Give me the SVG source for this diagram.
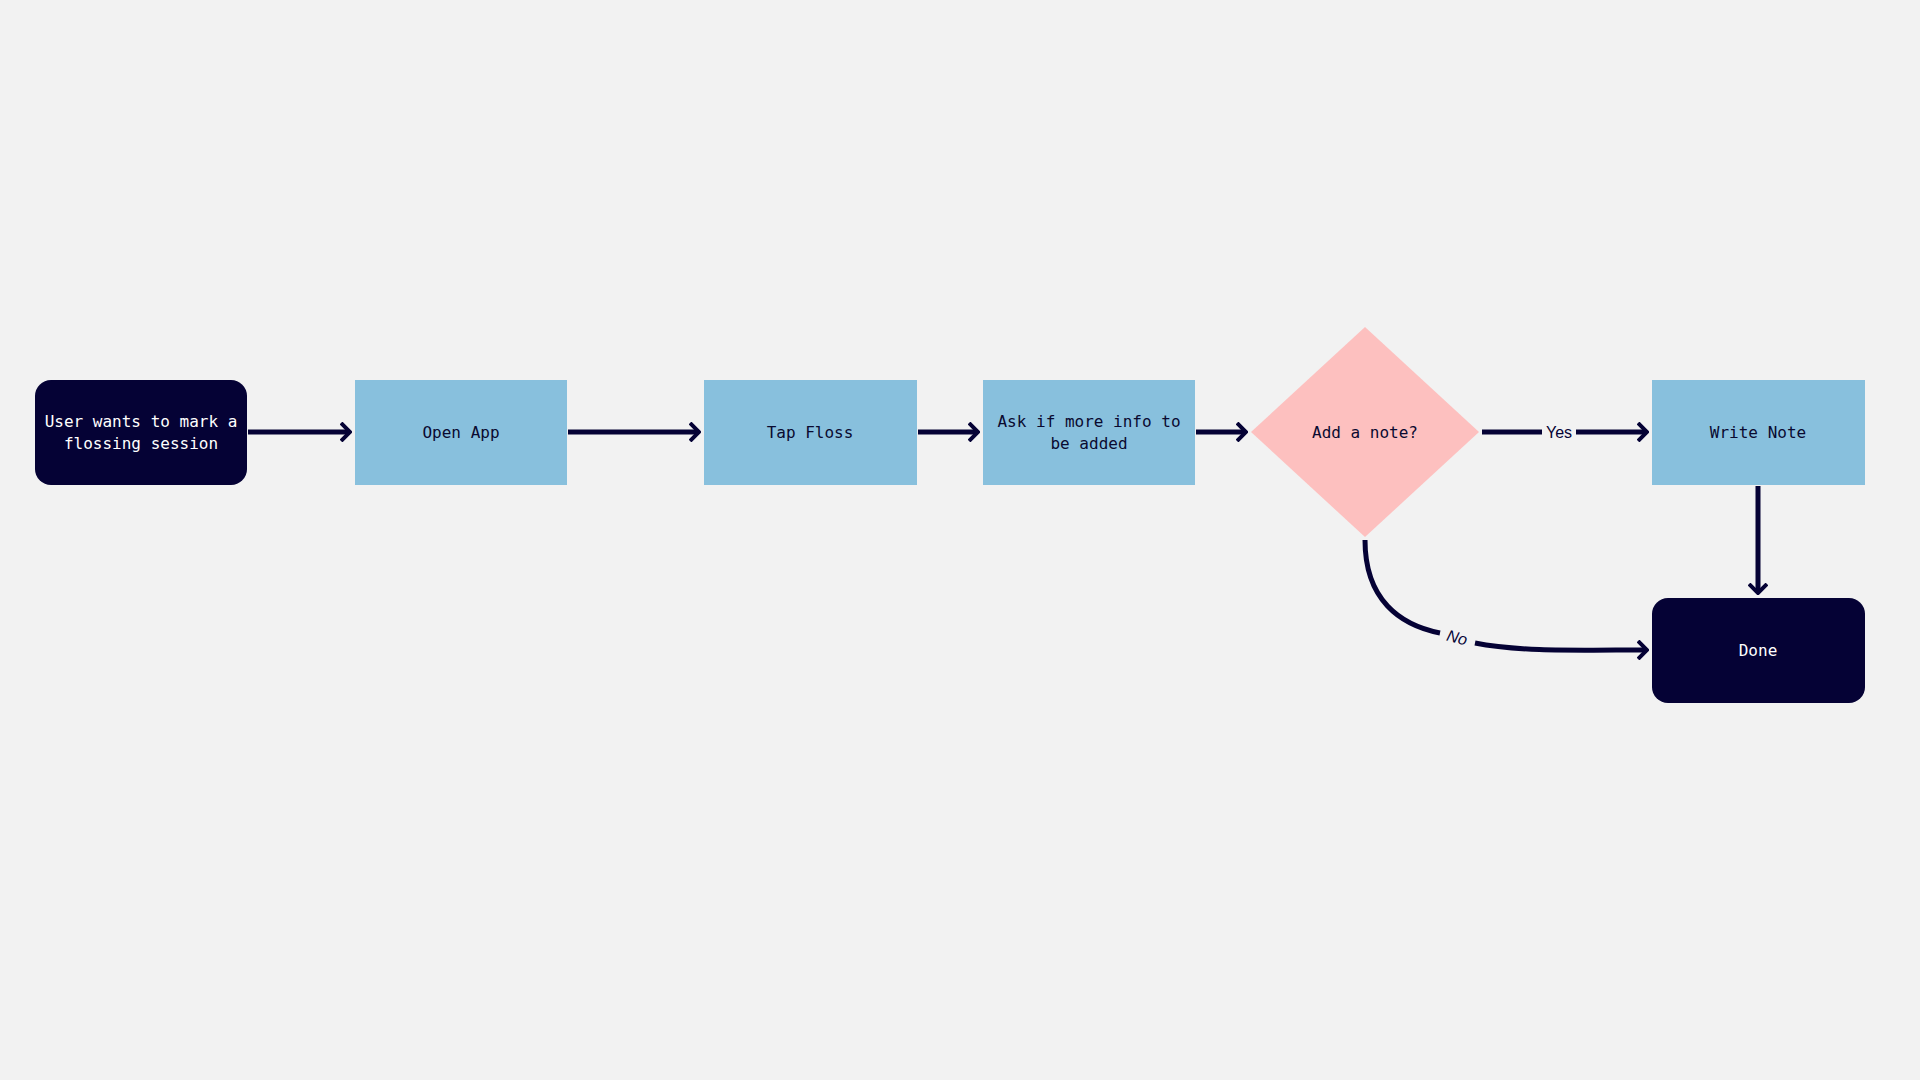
<svg xmlns="http://www.w3.org/2000/svg" width="1920" height="1080" viewBox="0 0 1920 1080">
<style>
.dark{fill:#050235}
.blue{fill:#88c0dd}
.t{font-family:"DejaVu Sans Mono","Liberation Mono",monospace;font-size:16px;text-anchor:middle}
.w{fill:#ffffff}
.k{fill:#0a0a30}
.c{fill:none;stroke:#050235;stroke-width:5}
.l{font-family:"Liberation Sans",Arial,sans-serif;font-size:16px;fill:#050235;text-anchor:middle}
</style>
<defs>
<marker id="a" viewBox="0 0 12 20" refX="10" refY="10" markerWidth="12" markerHeight="20" markerUnits="userSpaceOnUse" orient="auto">
<path d="M1,1 L10,10 L1,19" fill="none" stroke="#050235" stroke-width="4"/>
</marker>
</defs>
<rect width="1920" height="1080" fill="#f2f2f2"/>
<g id="start"><rect class="dark" x="35" y="380" width="212" height="105" rx="16"/><text class="t w" x="141" y="427">User wants to mark a</text><text class="t w" x="141" y="449">flossing session</text></g>
<g id="open"><rect class="blue" x="355" y="380" width="212" height="105"/><text class="t k" x="461" y="438">Open App</text></g>
<g id="tap"><rect class="blue" x="704" y="380" width="213" height="105"/><text class="t k" x="810" y="438">Tap Floss</text></g>
<g id="ask"><rect class="blue" x="983" y="380" width="212" height="105"/><text class="t k" x="1089" y="427">Ask if more info to</text><text class="t k" x="1089" y="449">be added</text></g>
<g id="decision"><polygon points="1365,327 1479,432 1365,537 1251,432" fill="#fdc0bf"/><text class="t k" x="1365" y="438">Add a note?</text></g>
<g id="write"><rect class="blue" x="1652" y="380" width="213" height="105"/><text class="t k" x="1758" y="438">Write Note</text></g>
<g id="done"><rect class="dark" x="1652" y="598" width="213" height="105" rx="16"/><text class="t w" x="1758" y="656">Done</text></g>
<g id="connectors">
<line class="c" x1="248" y1="432" x2="350" y2="432" marker-end="url(#a)"/>
<line class="c" x1="568" y1="432" x2="699" y2="432" marker-end="url(#a)"/>
<line class="c" x1="918" y1="432" x2="978" y2="432" marker-end="url(#a)"/>
<line class="c" x1="1196" y1="432" x2="1246" y2="432" marker-end="url(#a)"/>
<path class="c" d="M1482,432 H1542 M1576,432 H1647" marker-end="url(#a)"/>
<text class="l" x="1559" y="438">Yes</text>
<line class="c" x1="1758" y1="486" x2="1758" y2="593" marker-end="url(#a)"/>
<path class="c" d="M1365,540 C1365,600 1400,625 1440,633 M1475,643 C1520,652 1580,650 1647,650" marker-end="url(#a)"/>
<text class="l" x="1457" y="643" transform="rotate(15 1457 638)" font-style="italic">No</text>
</g>
</svg>
